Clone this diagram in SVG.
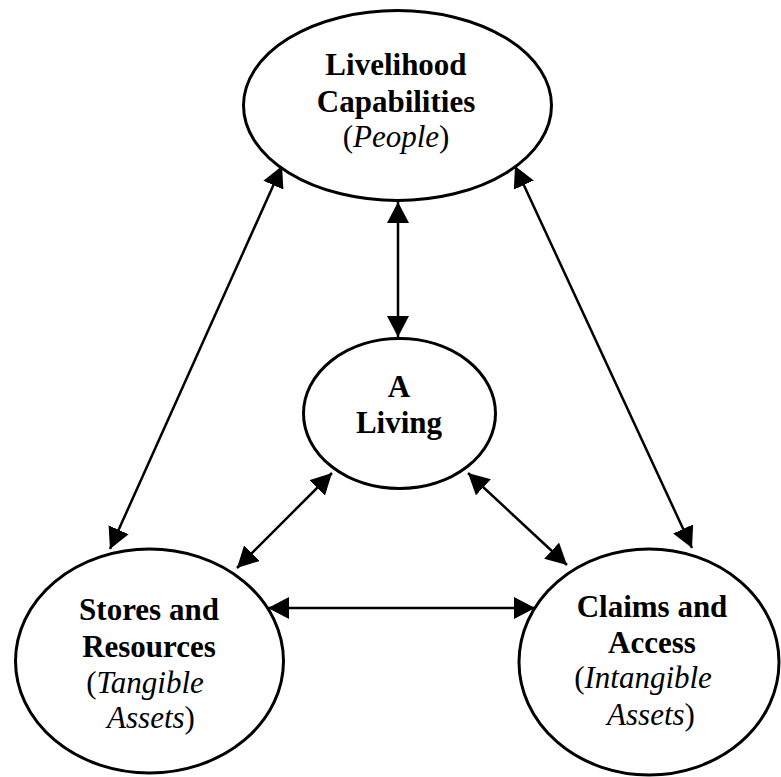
<svg xmlns="http://www.w3.org/2000/svg" width="781" height="777" viewBox="0 0 781 777">
<style>
.node ellipse{fill:#fff;stroke:#000;stroke-width:3}
.t{font-family:"Liberation Serif","Times New Roman",serif;font-size:31px;fill:#000;text-anchor:middle}
.b{font-weight:bold}
.i{font-style:italic}
.conn line{stroke:#000;stroke-width:2.5;marker-start:url(#ah);marker-end:url(#ah)}
</style>
<defs>
<marker id="ah" viewBox="0 0 21 22" markerWidth="21" markerHeight="22" markerUnits="userSpaceOnUse" refX="21" refY="11" orient="auto-start-reverse">
<path d="M0,0 L21,11 L0,22 z" fill="#000"/>
</marker>
</defs>
<rect width="781" height="777" fill="#fff"/>
<g id="connectors" class="conn">
<line x1="398" y1="202" x2="398" y2="337"/>
<line x1="282" y1="166" x2="110" y2="549"/>
<line x1="515" y1="166" x2="692" y2="548"/>
<line x1="332" y1="473" x2="237" y2="568"/>
<line x1="468" y1="473" x2="567" y2="565"/>
<line x1="268" y1="608" x2="535" y2="608"/>
</g>
<g id="node-capabilities" class="node">
<ellipse cx="397.5" cy="105.5" rx="154" ry="95"/>
<text class="t b" x="396" y="75">Livelihood</text>
<text class="t b" x="396" y="112">Capabilities</text>
<text class="t" x="396" y="147">(<tspan class="i">People</tspan>)</text>
</g>
<g id="node-living" class="node">
<ellipse cx="399.5" cy="413.5" rx="96" ry="75"/>
<text class="t b" x="399" y="397">A</text>
<text class="t b" x="399" y="433">Living</text>
</g>
<g id="node-stores" class="node">
<ellipse cx="149.5" cy="661" rx="134" ry="112"/>
<text class="t b" x="149" y="620">Stores and</text>
<text class="t b" x="149" y="657">Resources</text>
<text class="t" x="145" y="693">(<tspan class="i">Tangible</tspan></text>
<text class="t" x="151" y="728"><tspan class="i">Assets</tspan>)</text>
</g>
<g id="node-claims" class="node">
<ellipse cx="649" cy="662" rx="130" ry="113"/>
<text class="t b" x="652" y="617">Claims and</text>
<text class="t b" x="652" y="653">Access</text>
<text class="t" x="643" y="688">(<tspan class="i">Intangible</tspan></text>
<text class="t" x="651" y="725"><tspan class="i">Assets</tspan>)</text>
</g>
</svg>
